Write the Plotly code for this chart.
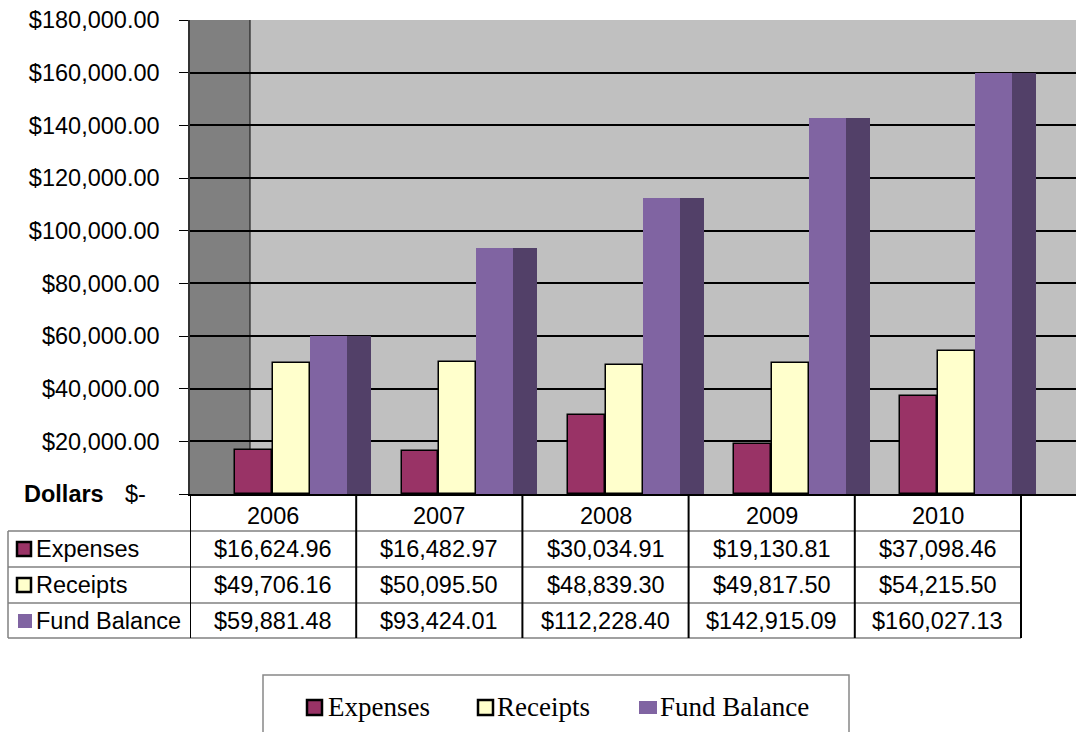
import plotly.graph_objects as go
import numpy as np

# ---------------- data ----------------
years = ["2006", "2007", "2008", "2009", "2010"]
series_names = ["Expenses", "Receipts", "Fund Balance"]
expenses = [16624.96, 16482.97, 30034.91, 19130.81, 37098.46]
receipts = [49706.16, 50095.50, 48839.30, 49817.50, 54215.50]
fund_balance = [59881.48, 93424.01, 112228.40, 142915.09, 160027.13]
y_ticks = [0, 20000, 40000, 60000, 80000, 100000, 120000, 140000, 160000, 180000]
y_tick_labels = ["", "$20,000.00", "$40,000.00", "$60,000.00", "$80,000.00",
                 "$100,000.00", "$120,000.00", "$140,000.00", "$160,000.00", "$180,000.00"]

# ---------------- style ----------------
W, H = 1076, 732
C_EXP = "#993366"
C_REC = "#FFFFCC"
C_FUND = "#8064A2"
C_FUND_SIDE = "#524068"
PLOT_BG = "#C0C0C0"
WALL = "#808080"
SANS = "Liberation Sans, Arial, sans-serif"
SERIF = "Liberation Serif, Times New Roman, serif"
FS = 23.5

COL_W = 166.2          # pixel width of one category
X0_PX = 190            # left edge of plot area
TOP_PX, BOT_PX = 20, 494


def py(px):
    return 1 - px / H


def pxx(px):
    return px / W


xr = (W - X0_PX) / COL_W
idx = np.arange(len(years))

fig = go.Figure()

bar_specs = [
    (expenses, 0.384, 0.222, C_EXP, "black", 1.5),
    (receipts, 0.612, 0.222, C_REC, "black", 1.5),
    (fund_balance, 0.8345, 0.223, C_FUND, C_FUND, 0),
    (fund_balance, 1.018, 0.144, C_FUND_SIDE, C_FUND_SIDE, 0),
]
names = series_names + ["Fund Balance side"]
for (vals, off, wd, col, lc, lw), nm in zip(bar_specs, names):
    fig.add_trace(go.Bar(
        x=idx + off, y=vals, width=wd, name=nm,
        marker=dict(color=col, line=dict(color=lc, width=lw)),
        showlegend=False, hoverinfo="y",
    ))

shapes = []
annotations = []

# side wall
shapes.append(dict(type="rect", xref="x", yref="y", x0=0, x1=60 / COL_W, y0=0, y1=180000,
                   fillcolor=WALL, line=dict(width=0), layer="below"))
shapes.append(dict(type="line", xref="x", yref="y", x0=60 / COL_W, x1=60 / COL_W, y0=0, y1=180000,
                   line=dict(color="#222222", width=1.2), layer="below"))

# ---------------- data table ----------------
row_lines = [531, 567, 603, 638]
tbl_top = 495
for r in row_lines:
    shapes.append(dict(type="line", xref="paper", yref="paper", x0=pxx(8), x1=pxx(X0_PX + 5 * COL_W),
                       y0=py(r), y1=py(r), line=dict(color="#808080", width=1.5)))
for i in range(len(years) + 1):
    shapes.append(dict(type="line", xref="x", yref="paper", x0=i, x1=i,
                       y0=py(tbl_top), y1=py(638), line=dict(color="black", width=2)))
shapes.append(dict(type="line", xref="paper", yref="paper", x0=pxx(8), x1=pxx(8),
                   y0=py(531), y1=py(638), line=dict(color="#808080", width=1.5)))

for i, yr in enumerate(years):
    annotations.append(dict(x=i + 0.5, y=py(516), xref="x", yref="paper", text=yr, showarrow=False,
                            font=dict(family=SANS, size=FS, color="black"), xanchor="center", yanchor="middle"))

series_vals = [expenses, receipts, fund_balance]
series_cols = [C_EXP, C_REC, C_FUND]
row_centers = [549, 585, 621]
for r, (nm, vals, col) in enumerate(zip(series_names, series_vals, series_cols)):
    yc = row_centers[r]
    annotations.append(dict(x=pxx(34), y=py(yc), xref="paper", yref="paper", text=nm, showarrow=False,
                            font=dict(family=SANS, size=FS, color="black"), xanchor="left", yanchor="middle"))
    if r < 2:
        shapes.append(dict(type="rect", xref="paper", yref="paper", x0=pxx(17), x1=pxx(31),
                           y0=py(yc - 7), y1=py(yc + 7), fillcolor=col, line=dict(color="black", width=2.5)))
    else:
        shapes.append(dict(type="rect", xref="paper", yref="paper", x0=pxx(18), x1=pxx(32),
                           y0=py(yc - 7), y1=py(yc + 7), fillcolor=col, line=dict(width=0)))
    for i, v in enumerate(vals):
        annotations.append(dict(x=i + 0.5, y=py(yc), xref="x", yref="paper", text=f"${v:,.2f}",
                                showarrow=False, font=dict(family=SANS, size=FS, color="black"),
                                xanchor="center", yanchor="middle"))

annotations.append(dict(x=pxx(22), y=py(494), xref="paper", yref="paper", text="<b>Dollars</b>",
                        showarrow=False, font=dict(family=SANS, size=FS, color="black"),
                        xanchor="left", yanchor="middle"))
annotations.append(dict(x=pxx(148), y=py(494), xref="paper", yref="paper", text="$-",
                        showarrow=False, font=dict(family=SANS, size=FS, color="black"),
                        xanchor="right", yanchor="middle"))

# ---------------- bottom legend ----------------
shapes.append(dict(type="rect", xref="paper", yref="paper", x0=pxx(263), x1=pxx(849),
                   y0=py(745), y1=py(675), fillcolor="white", line=dict(color="#888888", width=1.5)))
leg_sq = [306, 477, 639]
leg_txt = [326, 495, 658]
for nm, col, sx, tx, k in zip(series_names, series_cols, leg_sq, leg_txt, range(3)):
    if k < 2:
        shapes.append(dict(type="rect", xref="paper", yref="paper", x0=pxx(sx + 1), x1=pxx(sx + 16),
                           y0=py(715), y1=py(700), fillcolor=col, line=dict(color="black", width=2.5)))
    else:
        shapes.append(dict(type="rect", xref="paper", yref="paper", x0=pxx(sx), x1=pxx(sx + 18),
                           y0=py(714), y1=py(701), fillcolor=col, line=dict(width=0)))
    annotations.append(dict(x=pxx(tx), y=py(707), xref="paper", yref="paper", text=nm, showarrow=False,
                            font=dict(family=SERIF, size=27, color="black"), xanchor="left", yanchor="middle"))

fig.update_layout(
    template="none",
    width=W, height=H, autosize=False,
    margin=dict(l=0, r=0, t=0, b=0, pad=0, autoexpand=False),
    paper_bgcolor="white", plot_bgcolor=PLOT_BG,
    barmode="overlay", bargap=0,
    shapes=shapes, annotations=annotations,
    showlegend=False,
    xaxis=dict(domain=[X0_PX / W, 1], range=[0, xr], showgrid=False, zeroline=False, automargin=False,
               showticklabels=False, ticks="", showline=True, linecolor="black", linewidth=1.5),
    yaxis=dict(domain=[py(BOT_PX), py(TOP_PX)], range=[0, 180000], tickvals=y_ticks, ticktext=y_tick_labels,
               showgrid=True, gridcolor="black", gridwidth=1.5, zeroline=False, automargin=False,
               ticks="outside", ticklen=9, tickcolor="black", tickwidth=1.2,
               showline=True, linecolor="#333333", linewidth=1.5, mirror=True,
               ticklabelstandoff=15,
               tickfont=dict(family=SANS, size=FS, color="black")),
)

fig.write_html("out.html",
               config={"displayModeBar": False},
               post_script="document.body.style.margin='0';document.body.style.overflow='hidden';"
                           "window.dispatchEvent(new Event('resize'));")
